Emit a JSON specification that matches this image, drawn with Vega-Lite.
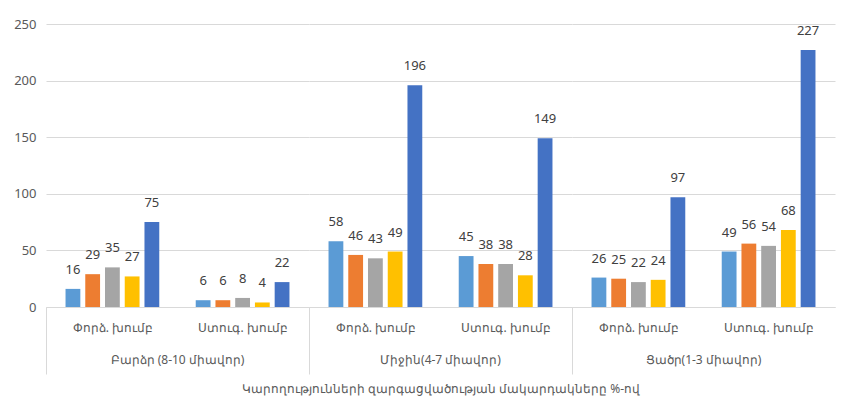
{
  "$schema": "https://vega.github.io/schema/vega-lite/v6.json",
  "padding": {"left": 13, "top": 18, "right": 10, "bottom": 5},
  "background": "white",
  "data": {"values": [
    {"level": "Բարձր (8-10 միավոր)", "group": "Փորձ. խումբ", "s": "s1", "v": 16},
    {"level": "Բարձր (8-10 միավոր)", "group": "Փորձ. խումբ", "s": "s2", "v": 29},
    {"level": "Բարձր (8-10 միավոր)", "group": "Փորձ. խումբ", "s": "s3", "v": 35},
    {"level": "Բարձր (8-10 միավոր)", "group": "Փորձ. խումբ", "s": "s4", "v": 27},
    {"level": "Բարձր (8-10 միավոր)", "group": "Փորձ. խումբ", "s": "s5", "v": 75},
    {"level": "Բարձր (8-10 միավոր)", "group": "Ստուգ. խումբ", "s": "s1", "v": 6},
    {"level": "Բարձր (8-10 միավոր)", "group": "Ստուգ. խումբ", "s": "s2", "v": 6},
    {"level": "Բարձր (8-10 միավոր)", "group": "Ստուգ. խումբ", "s": "s3", "v": 8},
    {"level": "Բարձր (8-10 միավոր)", "group": "Ստուգ. խումբ", "s": "s4", "v": 4},
    {"level": "Բարձր (8-10 միավոր)", "group": "Ստուգ. խումբ", "s": "s5", "v": 22},
    {"level": "Միջին(4-7 միավոր)", "group": "Փորձ. խումբ", "s": "s1", "v": 58},
    {"level": "Միջին(4-7 միավոր)", "group": "Փորձ. խումբ", "s": "s2", "v": 46},
    {"level": "Միջին(4-7 միավոր)", "group": "Փորձ. խումբ", "s": "s3", "v": 43},
    {"level": "Միջին(4-7 միավոր)", "group": "Փորձ. խումբ", "s": "s4", "v": 49},
    {"level": "Միջին(4-7 միավոր)", "group": "Փորձ. խումբ", "s": "s5", "v": 196},
    {"level": "Միջին(4-7 միավոր)", "group": "Ստուգ. խումբ", "s": "s1", "v": 45},
    {"level": "Միջին(4-7 միավոր)", "group": "Ստուգ. խումբ", "s": "s2", "v": 38},
    {"level": "Միջին(4-7 միավոր)", "group": "Ստուգ. խումբ", "s": "s3", "v": 38},
    {"level": "Միջին(4-7 միավոր)", "group": "Ստուգ. խումբ", "s": "s4", "v": 28},
    {"level": "Միջին(4-7 միավոր)", "group": "Ստուգ. խումբ", "s": "s5", "v": 149},
    {"level": "Ցածր(1-3 միավոր)", "group": "Փորձ. խումբ", "s": "s1", "v": 26},
    {"level": "Ցածր(1-3 միավոր)", "group": "Փորձ. խումբ", "s": "s2", "v": 25},
    {"level": "Ցածր(1-3 միավոր)", "group": "Փորձ. խումբ", "s": "s3", "v": 22},
    {"level": "Ցածր(1-3 միավոր)", "group": "Փորձ. խումբ", "s": "s4", "v": 24},
    {"level": "Ցածր(1-3 միավոր)", "group": "Փորձ. խումբ", "s": "s5", "v": 97},
    {"level": "Ցածր(1-3 միավոր)", "group": "Ստուգ. խումբ", "s": "s1", "v": 49},
    {"level": "Ցածր(1-3 միավոր)", "group": "Ստուգ. խումբ", "s": "s2", "v": 56},
    {"level": "Ցածր(1-3 միավոր)", "group": "Ստուգ. խումբ", "s": "s3", "v": 54},
    {"level": "Ցածր(1-3 միավոր)", "group": "Ստուգ. խումբ", "s": "s4", "v": 68},
    {"level": "Ցածր(1-3 միավոր)", "group": "Ստուգ. խումբ", "s": "s5", "v": 227}
  ]},
  "facet": {
    "column": {
      "field": "level",
      "type": "nominal",
      "sort": ["Բարձր (8-10 միավոր)", "Միջին(4-7 միավոր)", "Ցածր(1-3 միավոր)"],
      "title": "Կարողությունների  զարգացվածության մակարդակները %-ով",
      "header": {
        "labelOrient": "bottom",
        "titleOrient": "bottom",
        "labelFont": "Noto Sans",
        "labelFontSize": 12,
        "labelColor": "#595959",
        "labelPadding": -20,
        "titleFont": "Noto Sans",
        "titleFontSize": 12,
        "titleFontWeight": "normal",
        "titleColor": "#595959",
        "titlePadding": -1
      }
    }
  },
  "spacing": 0,
  "spec": {
    "width": 263,
    "height": 283,
    "encoding": {
      "x": {
        "field": "group",
        "type": "nominal",
        "sort": ["Փորձ. խումբ", "Ստուգ. խումբ"],
        "scale": {"paddingInner": 0.28, "paddingOuter": 0.15},
        "axis": {
          "title": null,
          "labelAngle": 0,
          "labelFont": "Noto Sans",
          "labelFontSize": 12,
          "labelColor": "#595959",
          "domainColor": "#D9D9D9",
          "tickSize": 67,
          "tickOffset": -66,
          "labelOffset": 66,
          "tickColor": {"condition": {"test": "datum.value === 'Փորձ. խումբ'", "value": "#D9D9D9"}, "value": "transparent"},
          "labelPadding": -52
        }
      },
      "xOffset": {"field": "s", "type": "nominal", "scale": {"paddingInner": 0.25, "paddingOuter": 0}},
      "y": {
        "field": "v",
        "type": "quantitative",
        "scale": {"domain": [0, 250], "nice": false},
        "axis": {
          "title": null,
          "values": [0, 50, 100, 150, 200, 250],
          "domain": false,
          "ticks": false,
          "labelFont": "Noto Sans",
          "labelFontSize": 13,
          "labelColor": "#595959",
          "labelPadding": 10,
          "gridColor": "#D9D9D9"
        }
      }
    },
    "layer": [
      {
        "mark": {"type": "bar"},
        "encoding": {
          "color": {
            "field": "s",
            "type": "nominal",
            "legend": null,
            "scale": {"domain": ["s1", "s2", "s3", "s4", "s5"], "range": ["#5B9BD5", "#ED7D31", "#A5A5A5", "#FFC000", "#4472C4"]}
          }
        }
      },
      {
        "mark": {"type": "text", "dy": -19, "font": "Noto Sans", "fontSize": 13, "color": "#404040"},
        "encoding": {"text": {"field": "v", "type": "quantitative"}}
      }
    ]
  },
  "config": {"view": {"stroke": null}}
}
